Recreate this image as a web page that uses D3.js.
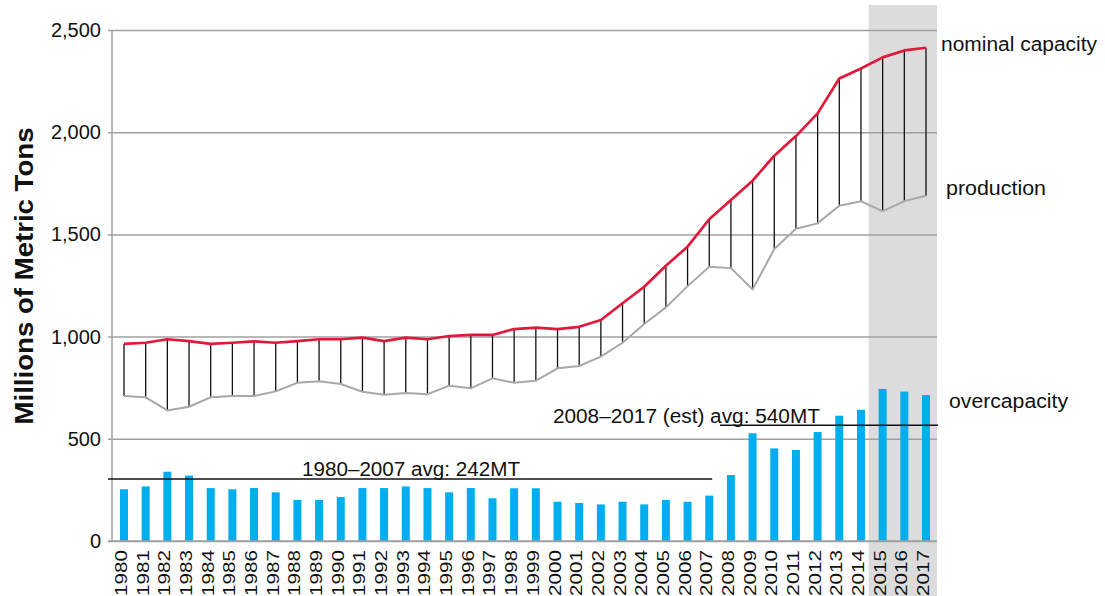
<!DOCTYPE html>
<html><head><meta charset="utf-8">
<script src="https://cdn.jsdelivr.net/npm/d3@7"></script>
<style>body{margin:0;background:#fff}svg{display:block}text{font-family:"Liberation Sans",Arial,Helvetica,sans-serif;fill:#111}</style>
</head><body><svg id="c" width="1105" height="596"></svg>
<script>
const years = d3.range(1980, 2018);
const capacity = [964,970,987,978,964,970,977,970,978,987,987,995,978,995,987,1003,1008,1008,1037,1044,1037,1048,1081,1163,1244,1347,1440,1574,1668,1763,1885,1981,2092,2263,2312,2366,2400,2413];
const production = [709,703,639,657,703,709,709,732,774,781,768,730,716,724,718,760,747,796,774,784,845,856,902,970,1062,1143,1247,1342,1335,1231,1428,1528,1554,1640,1662,1614,1663,1689];
const overcapacity = [253,267,339,320,259,253,259,238,201,201,215,259,259,267,259,238,259,209,258,258,192,186,179,192,179,201,192,222,323,527,453,445,533,613,642,744,731,714];
const yTicks = [0,500,1000,1500,2000,2500];
const avgLines = [
  {label:"1980–2007 avg: 242MT", level:303, from:1980, to:2007},
  {label:"2008–2017 (est) avg: 540MT", level:566, from:2008, to:2017}
];
const estYears = [2015, 2017];
const seriesLabels = [
  {text:"nominal capacity", value:2396},
  {text:"production", value:1695},
  {text:"overcapacity", value:652}
];

const svg = d3.select("#c");
const x = d3.scalePoint().domain(years).range([124, 926]);
const y = d3.scaleLinear().domain([0, 2500]).range([541, 30]);

// shaded estimate band
svg.append("rect").attr("x", x(estYears[0]) - 14).attr("y", 5)
  .attr("width", x(estYears[1]) + 11 - (x(estYears[0]) - 14)).attr("height", 596 - 5)
  .attr("fill", "#dcdcdc");

// gridlines + ticks
const yAxis = d3.axisLeft(y).tickValues(yTicks).tickFormat(d3.format(",")).tickSize(-(937 - 112)).tickPadding(11);
const ga = svg.append("g").attr("transform", "translate(112,0)").call(yAxis);
ga.select(".domain").remove();
ga.selectAll(".tick line").attr("stroke", "#a0a0a0").attr("stroke-width", 1.5).attr("x1", -4);
ga.selectAll(".tick text").attr("font-size", 20).attr("fill", "#222").attr("x", -11)
  .style("font-family", '"Liberation Sans",Arial,sans-serif');
svg.append("line").attr("x1", 112).attr("x2", 112).attr("y1", y(2500)).attr("y2", y(0))
  .attr("stroke", "#a0a0a0").attr("stroke-width", 1.5);

// bars
svg.append("g").selectAll("rect").data(years).join("rect")
  .attr("x", d => x(d) - 4).attr("width", 8)
  .attr("y", (d, i) => y(overcapacity[i])).attr("height", (d, i) => y(0) - y(overcapacity[i]))
  .attr("fill", "#00aeef");

// baseline redraw
svg.append("line").attr("x1", 108).attr("x2", 937).attr("y1", y(0)).attr("y2", y(0))
  .attr("stroke", "#a0a0a0").attr("stroke-width", 1.5);

// connectors
svg.append("g").selectAll("line").data(years).join("line")
  .attr("x1", d => x(d)).attr("x2", d => x(d))
  .attr("y1", (d, i) => y(capacity[i])).attr("y2", (d, i) => y(production[i]))
  .attr("stroke", "#111").attr("stroke-width", 1.3);

const line = d3.line().x((d, i) => x(years[i])).y(d => y(d));
svg.append("path").datum(production).attr("d", line).attr("fill", "none")
  .attr("stroke", "#a8a8a8").attr("stroke-width", 2);
svg.append("path").datum(capacity).attr("d", line).attr("fill", "none")
  .attr("stroke", "#e3173a").attr("stroke-width", 2.7).attr("stroke-linejoin", "round");

// average lines
const offs = [[-16, 3, 302 - 124, -3, 218], [-11, 12, 553 - 731, -2, 267]];
avgLines.forEach((a, k) => {
  svg.append("line").attr("x1", x(a.from) + offs[k][0]).attr("x2", x(a.to) + offs[k][1])
    .attr("y1", y(a.level)).attr("y2", y(a.level)).attr("stroke", "#111").attr("stroke-width", 1.4);
  svg.append("text").attr("x", x(a.from) + offs[k][2]).attr("y", y(a.level) + offs[k][3])
    .attr("font-size", 20).attr("textLength", offs[k][4]).attr("lengthAdjust", "spacingAndGlyphs")
    .text(a.label);
});

// series labels
const lx = [941, 946, 949];
const lw = [156, 100, 119];
seriesLabels.forEach((s, k) => {
  svg.append("text").attr("x", lx[k]).attr("y", y(s.value)).attr("font-size", 20)
    .attr("textLength", lw[k]).attr("lengthAdjust", "spacingAndGlyphs").text(s.text);
});

// year labels
svg.append("g").selectAll("text").data(years).join("text")
  .attr("transform", d => `translate(${x(d) + 3},550) rotate(-90)`)
  .attr("text-anchor", "end").attr("font-size", 17)
  .attr("textLength", 46).attr("lengthAdjust", "spacingAndGlyphs")
  .text(d => d);

// y title
svg.append("text").attr("transform", "translate(33,276) rotate(-90)")
  .attr("text-anchor", "middle").attr("font-size", 26).attr("font-weight", "bold")
  .attr("textLength", 297).attr("lengthAdjust", "spacingAndGlyphs")
  .text("Millions of Metric Tons");
</script></body></html>
